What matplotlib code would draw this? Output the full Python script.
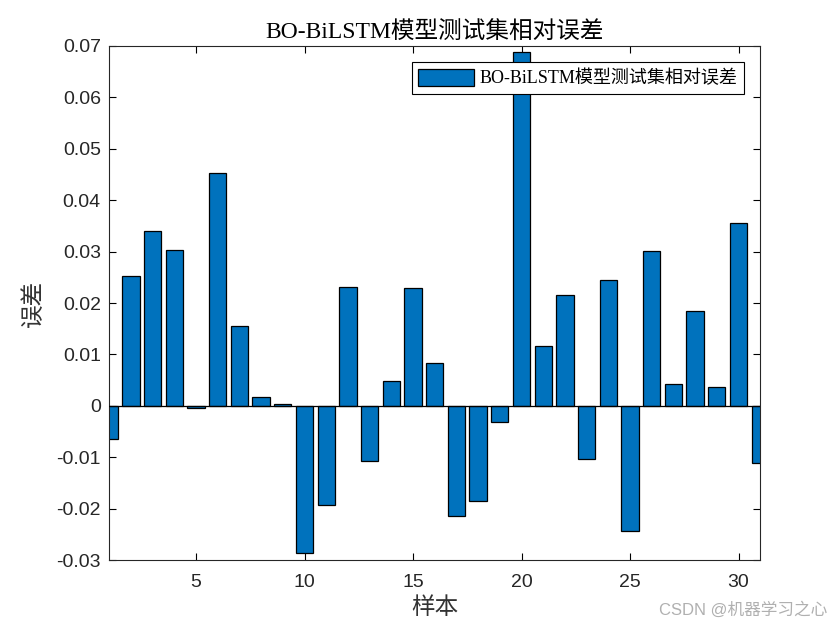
import numpy as np
import matplotlib
matplotlib.use("Agg")
import matplotlib.pyplot as plt
from matplotlib.ticker import FuncFormatter

plt.rcParams['axes.unicode_minus'] = False

# relative error of each test sample
samples = np.arange(1, 32)
rel_err = [-0.0064, 0.0253, 0.0341, 0.0303, -0.0005, 0.0453, 0.0156, 0.0018, 0.0004, -0.0286,
           -0.0193, 0.0232, -0.0107, 0.0049, 0.0230, 0.0084, -0.0214, -0.0185, -0.0031, 0.0689,
           0.0116, 0.0215, -0.0103, 0.0245, -0.0244, 0.0302, 0.0042, 0.0185, 0.0037, 0.0355,
           -0.0112]
title = "BO-BiLSTM模型测试集相对误差"

serif = ['Liberation Serif', 'Noto Sans CJK SC']
sans = ['Liberation Sans', 'Noto Sans CJK SC']

fig = plt.figure(figsize=(8.4, 6.3), dpi=100)
ax = fig.add_axes([0.130, 0.111, 0.775, 0.816])

ax.bar(samples, rel_err, width=0.8, color='#0072BD', edgecolor='black', linewidth=0.9,
       label=title, zorder=2)
ax.axhline(0, color='black', linewidth=0.9, zorder=3)

ax.set_xlim(1, 31)
ax.set_ylim(-0.03, 0.07)
ax.set_xticks([5, 10, 15, 20, 25, 30])
ax.set_yticks(np.arange(-0.03, 0.0701, 0.01))
ax.yaxis.set_major_formatter(FuncFormatter(lambda v, p: ('%.2f' % v).rstrip('0').rstrip('.') if abs(v) > 1e-9 else '0'))

ax.tick_params(direction='in', top=True, right=True, length=5, width=0.8, labelsize=14,
               labelcolor='#262626')
ax.tick_params(axis='x', pad=10)
ax.tick_params(axis='y', pad=6)
for lab in ax.get_xticklabels() + ax.get_yticklabels():
    lab.set_family(sans)
for s in ax.spines.values():
    s.set_linewidth(0.8)
    s.set_color('#262626')

ax.set_title(title, family=serif, fontsize=17, pad=5)
ax.set_xlabel("样本", family=sans, fontsize=17, color='#333333', labelpad=4)
ax.set_ylabel("误差", family=sans, fontsize=17, color='#333333', labelpad=8)

leg = ax.legend(loc='upper right', prop={'family': serif, 'size': 13}, fancybox=False,
                framealpha=1, edgecolor='black', handlelength=3.1, handleheight=1.1,
                handletextpad=0.3, borderaxespad=0.9, borderpad=0.35)
leg.get_frame().set_linewidth(0.8)

fig.text(0.985, 0.033, "CSDN @机器学习之心", ha='right', va='center', family=sans,
         fontsize=12, color='#b0b0b0')

fig.savefig("out.png", dpi=100)
